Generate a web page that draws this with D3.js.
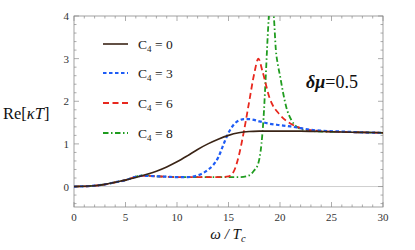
<!DOCTYPE html>
<html><head><meta charset="utf-8">
<script src="https://cdn.jsdelivr.net/npm/d3@7"></script>
<style>body{margin:0;background:#fff}svg{display:block}</style>
</head><body><svg id="c" width="415" height="250"></svg>
<script>
const omega0 = [0,1,2,3,4,5,6,7,8,9,10,11,12,13,14,15,16,17,18,19,20,22,24,26,28,30];
const kappa0 = [0,0.005,0.02,0.05,0.1,0.15,0.21,0.28,0.36,0.46,0.58,0.72,0.87,1.0,1.11,1.2,1.26,1.29,1.3,1.3,1.3,1.3,1.29,1.28,1.27,1.26];
const omega3 = [0,1,2,3,4,5,5.5,6,6.5,7,8,9,10,11,11.5,12,12.5,13,13.5,14,14.5,15,15.5,16,16.5,17,18,19,20,21,22,23,24,26,28,30];
const kappa3 = [0,0.005,0.02,0.05,0.1,0.15,0.19,0.23,0.25,0.25,0.24,0.23,0.22,0.22,0.23,0.26,0.31,0.39,0.5,0.68,0.98,1.26,1.45,1.55,1.58,1.58,1.53,1.47,1.44,1.41,1.37,1.33,1.31,1.29,1.27,1.26];
const omega6 = [0,1,2,3,4,5,5.5,6,6.5,7,8,9,10,12,14,15,15.5,16,16.5,17,17.5,17.9,18.3,19,20,21,22,23,24,26,28,30];
const kappa6 = [0,0.005,0.02,0.05,0.1,0.15,0.19,0.23,0.25,0.25,0.24,0.23,0.22,0.22,0.22,0.24,0.35,0.72,1.3,1.98,2.65,3.0,2.7,2.07,1.68,1.48,1.37,1.32,1.3,1.28,1.27,1.26];
const omega8 = [0,1,2,3,4,5,5.5,6,6.5,7,8,9,10,12,14,16,17,17.5,17.9,18.2,18.4,18.6,18.8,19.0,19.15,19.4,19.6,19.8,20,20.3,20.6,21.1,21.7,22.5,24,26,28,30];
const kappa8 = [0,0.005,0.02,0.05,0.1,0.15,0.19,0.23,0.26,0.26,0.24,0.23,0.22,0.22,0.22,0.22,0.26,0.38,0.55,1.0,1.6,2.5,3.5,4.3,4.6,4.0,3.2,2.85,2.6,2.2,1.87,1.56,1.39,1.32,1.29,1.28,1.27,1.26];
const seriesNames = ["0","3","6","8"];
const xTicks = [0,5,10,15,20,25,30];
const yTicks = [0,1,2,3,4];

const W=415,H=250, m={l:74,r:32,t:16,b:43};
const svg=d3.select("#c");
const x=d3.scaleLinear().domain([0,30]).range([m.l,W-m.r]);
const y=d3.scaleLinear().domain([-0.48,4]).range([H-m.b,m.t]);

svg.append("defs").append("clipPath").attr("id","clip").append("rect")
 .attr("x",m.l).attr("y",m.t).attr("width",W-m.l-m.r).attr("height",H-m.t-m.b);

svg.append("line").attr("x1",x(0)).attr("x2",x(30)).attr("y1",y(0)).attr("y2",y(0))
 .attr("stroke","#cfcfcf").attr("stroke-width",1);

const fc="#8a8a8a";
svg.append("rect").attr("x",m.l).attr("y",m.t).attr("width",W-m.l-m.r).attr("height",H-m.t-m.b)
 .attr("fill","none").attr("stroke",fc).attr("stroke-width",0.8);

const xMinor=d3.range(0,31,1), yMinor=d3.range(-0.4,4.001,0.2);
const tg=svg.append("g").attr("stroke",fc).attr("stroke-width",0.7);
xMinor.forEach(v=>{const L=(v%5===0)?5:2.5;
 tg.append("line").attr("x1",x(v)).attr("x2",x(v)).attr("y1",y.range()[0]).attr("y2",y.range()[0]-L);
 tg.append("line").attr("x1",x(v)).attr("x2",x(v)).attr("y1",m.t).attr("y2",m.t+L);});
yMinor.forEach(v=>{const r=Math.round(v*5);const L=(r%5===0)?5:2.5;
 tg.append("line").attr("x1",m.l).attr("x2",m.l+L).attr("y1",y(v)).attr("y2",y(v));
 tg.append("line").attr("x1",W-m.r).attr("x2",W-m.r-L).attr("y1",y(v)).attr("y2",y(v));});

const font="Liberation Serif, Times New Roman, serif";
svg.append("g").selectAll("text").data(xTicks).join("text")
 .attr("x",d=>x(d)).attr("y",H-m.b+14).attr("text-anchor","middle")
 .style("font-family",font).attr("font-size",11).attr("fill","#333").text(d=>d);
svg.append("g").selectAll("text").data(yTicks).join("text")
 .attr("x",m.l-5).attr("y",d=>y(d)+4).attr("text-anchor","end")
 .style("font-family",font).attr("font-size",11).attr("fill","#333").text(d=>d);

const yl=svg.append("text").attr("x",3).attr("y",119).style("font-family",font).attr("font-size",16.5).attr("fill","#111");
yl.append("tspan").text("Re[");
yl.append("tspan").attr("font-style","italic").text("κT");
yl.append("tspan").text("]");
const xl=svg.append("text").attr("x",228).attr("y",239).attr("text-anchor","middle").style("font-family",font).attr("font-size",15).attr("font-style","italic").attr("fill","#111");
xl.append("tspan").text("ω / T");
xl.append("tspan").attr("font-size",10.5).attr("dy",3).text("c");

const styles=[
 {c:"#3a2416",d:null,w:1.6},
 {c:"#1e5cf5",d:"3.5,2.5",w:2.2},
 {c:"#e8281e",d:"6,3.5",w:1.8},
 {c:"#1f9c1f",d:"5.5,2.5,1.5,2.5",w:1.8}];
const data=[[omega0,kappa0],[omega3,kappa3],[omega6,kappa6],[omega8,kappa8]];
const lineSmooth=d3.line().x(d=>x(d[0])).y(d=>y(d[1])).curve(d3.curveCatmullRom.alpha(0.5));
const lineMono=d3.line().x(d=>x(d[0])).y(d=>y(d[1])).curve(d3.curveMonotoneX);
const pg=svg.append("g").attr("clip-path","url(#clip)");
[3,2,1,0].forEach(i=>{
 const pts=data[i][0].map((w,j)=>[w,data[i][1][j]]);
 pg.append("path").attr("d",(i===0?lineSmooth:lineMono)(pts)).attr("fill","none").attr("stroke",styles[i].c)
  .attr("stroke-width",styles[i].w).attr("stroke-dasharray",styles[i].d);
});

const ly=[44,73,103,133];
seriesNames.forEach((n,i)=>{
 svg.append("line").attr("x1",103).attr("x2",128).attr("y1",ly[i]).attr("y2",ly[i])
  .attr("stroke",styles[i].c).attr("stroke-width",styles[i].w).attr("stroke-dasharray",styles[i].d);
 const t=svg.append("text").attr("x",138).attr("y",ly[i]+4.5).style("font-family",font).attr("font-size",13.5).attr("fill","#222");
 t.append("tspan").text("C");
 t.append("tspan").attr("font-size",9).attr("dy",3).text("4");
 t.append("tspan").attr("dy",-3).text(" = "+n);
});

const dm=svg.append("text").attr("x",306).attr("y",88).style("font-family",font).attr("font-size",18).attr("fill","#111");
dm.append("tspan").attr("font-weight","bold").attr("font-style","italic").text("δμ");
dm.append("tspan").text("=0.5");
</script></body></html>
